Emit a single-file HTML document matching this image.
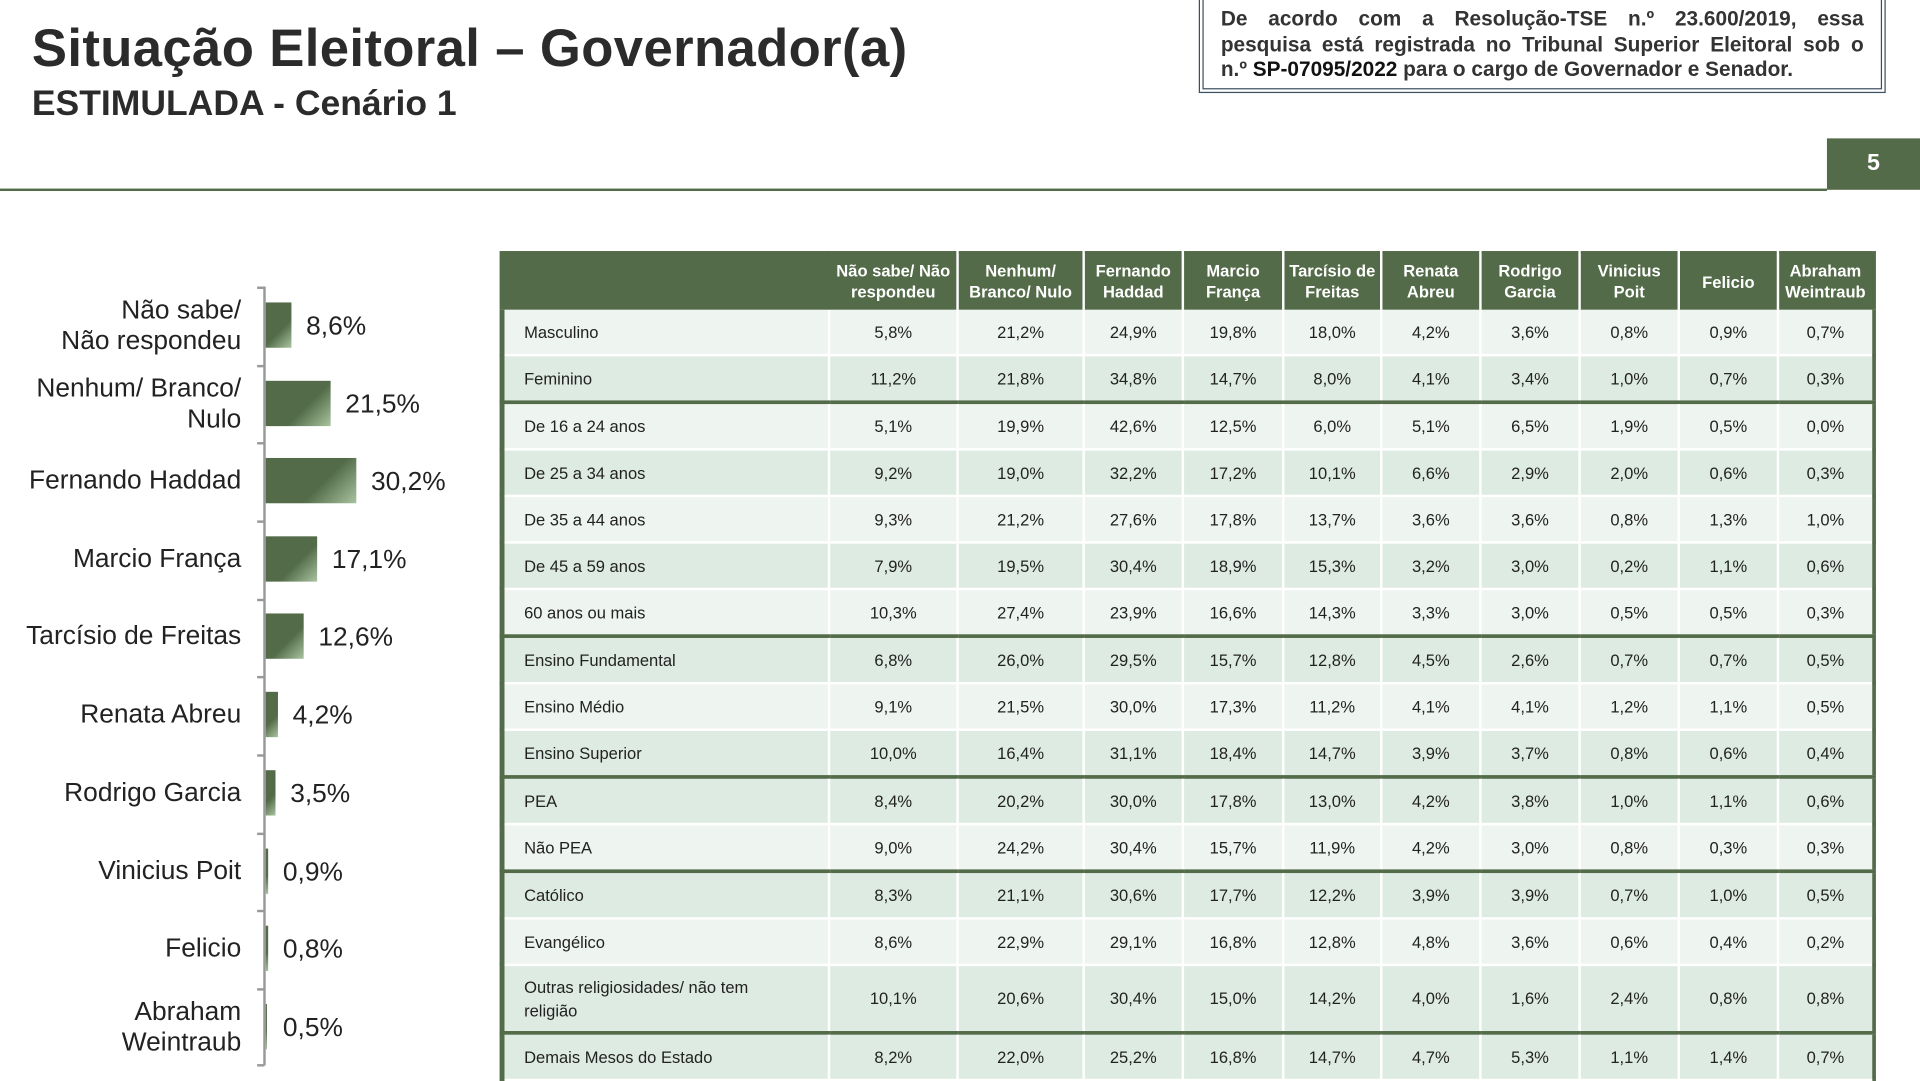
<!DOCTYPE html>
<html><head><meta charset="utf-8"><style>
html,body{margin:0;padding:0;width:1920px;height:1080px;overflow:hidden;background:#fff}
#w{position:absolute;left:0;top:0;width:1568px;height:882px;transform:scale(1.22449);transform-origin:0 0;font-family:"Liberation Sans",Arial,sans-serif;color:#1a1a1a}
.a{position:absolute}
h1{position:absolute;left:26px;top:16px;margin:0;font-size:43px;font-weight:bold;color:#2b2b2b;white-space:nowrap;letter-spacing:0.3px}
h2{position:absolute;left:26px;top:69px;margin:0;font-size:29px;font-weight:bold;color:#2b2b2b;white-space:nowrap}
.box{position:absolute;left:979px;top:-4px;width:561px;height:80px;border:4px double #3c4f60;padding:6px 14px 0 14px;box-sizing:border-box;font-size:17px;font-weight:bold;line-height:20.5px;color:#333}
.box div{text-align:justify;text-align-last:justify;white-space:nowrap}
.lab{position:absolute;right:1371px;font-size:21.5px;text-align:right;line-height:25px;color:#222;white-space:nowrap}
.bar{position:absolute;left:217px;height:37px;background:linear-gradient(135deg,#536b48 0%,#536b48 60%,#a9c3a0 100%)}
.val{position:absolute;font-size:21.5px;color:#222}
.tk{position:absolute;left:210px;width:6px;height:2px;background:#999}
table{position:absolute;left:408px;top:205px;width:1123px;border-collapse:collapse;table-layout:fixed;font-size:13.5px;border-left:4px solid #536b48;border-right:3px solid #536b48}
th{background:#536b48;color:#fff;font-size:13.5px;font-weight:bold;height:46px;line-height:17px;padding:0;border-right:2px solid #fff;border-top:2px solid #536b48}
th:first-child{border-right:2px solid #536b48}
td{height:36px;padding:0;text-align:center;border-right:2px solid #fff;border-bottom:2px solid #fff;color:#222}
td:first-child{text-align:left;padding-left:16px}
tr.l td{background:#eef4ef}
tr.d td{background:#deebe2}
tr.g td{border-bottom:3px solid #536b48}
</style></head><body><div id="w">
<h1>Situação Eleitoral – Governador(a)</h1>
<h2>ESTIMULADA - Cenário 1</h2>
<div class="box"><div>De acordo com a Resolução-TSE n.º 23.600/2019, essa</div><div>pesquisa está registrada no Tribunal Superior Eleitoral sob o</div><div style="text-align-last:left">n.º <span style="color:#111">SP-07095/2022</span> para o cargo de Governador e Senador.</div></div>
<div class="a" style="left:0;top:154px;width:1492px;height:2px;background:#536b48"></div>
<div class="a" style="left:1492px;top:113px;width:76px;height:42px;background:#536b48;color:#fff;font-weight:bold;font-size:19px;text-align:center;line-height:42px">5</div>

<div class="a" style="left:215px;top:234px;width:2px;height:636px;background:#999"></div>
<div class="tk" style="top:234px"></div><div class="tk" style="top:298px"></div><div class="tk" style="top:361px"></div><div class="tk" style="top:425px"></div><div class="tk" style="top:489px"></div><div class="tk" style="top:552px"></div><div class="tk" style="top:616px"></div><div class="tk" style="top:680px"></div><div class="tk" style="top:743px"></div><div class="tk" style="top:807px"></div><div class="tk" style="top:869px"></div>

<div class="lab" style="top:241px">Não sabe/<br>Não respondeu</div>
<div class="bar" style="top:247px;width:21px"></div><div class="val" style="left:250px;top:254px">8,6%</div>
<div class="lab" style="top:305px">Nenhum/ Branco/<br>Nulo</div>
<div class="bar" style="top:311px;width:53px"></div><div class="val" style="left:282px;top:318px">21,5%</div>
<div class="lab" style="top:380px">Fernando Haddad</div>
<div class="bar" style="top:374px;width:74px"></div><div class="val" style="left:303px;top:381px">30,2%</div>
<div class="lab" style="top:444px">Marcio França</div>
<div class="bar" style="top:438px;width:42px"></div><div class="val" style="left:271px;top:445px">17,1%</div>
<div class="lab" style="top:507px">Tarcísio de Freitas</div>
<div class="bar" style="top:501px;width:31px"></div><div class="val" style="left:260px;top:508px">12,6%</div>
<div class="lab" style="top:571px">Renata Abreu</div>
<div class="bar" style="top:565px;width:10px"></div><div class="val" style="left:239px;top:572px">4,2%</div>
<div class="lab" style="top:635px">Rodrigo Garcia</div>
<div class="bar" style="top:629px;width:8px"></div><div class="val" style="left:237px;top:636px">3,5%</div>
<div class="lab" style="top:699px">Vinicius Poit</div>
<div class="bar" style="top:693px;width:2px"></div><div class="val" style="left:231px;top:700px">0,9%</div>
<div class="lab" style="top:762px">Felicio</div>
<div class="bar" style="top:756px;width:2px"></div><div class="val" style="left:231px;top:763px">0,8%</div>
<div class="lab" style="top:814px">Abraham<br>Weintraub</div>
<div class="bar" style="top:820px;width:1px"></div><div class="val" style="left:231px;top:827px">0,5%</div>

<table>
<colgroup><col style="width:267px"><col style="width:105px"><col style="width:103px"><col style="width:81px"><col style="width:82px"><col style="width:80px"><col style="width:81px"><col style="width:81px"><col style="width:81px"><col style="width:81px"><col style="width:78px"></colgroup>
<tr><th></th><th>Não sabe/ Não<br>respondeu</th><th>Nenhum/<br>Branco/ Nulo</th><th>Fernando<br>Haddad</th><th>Marcio<br>França</th><th>Tarcísio de<br>Freitas</th><th>Renata<br>Abreu</th><th>Rodrigo<br>Garcia</th><th>Vinicius<br>Poit</th><th>Felicio</th><th style="border-right:none">Abraham<br>Weintraub</th></tr>
<tr class="l"><td>Masculino</td><td>5,8%</td><td>21,2%</td><td>24,9%</td><td>19,8%</td><td>18,0%</td><td>4,2%</td><td>3,6%</td><td>0,8%</td><td>0,9%</td><td>0,7%</td></tr>
<tr class="d g"><td>Feminino</td><td>11,2%</td><td>21,8%</td><td>34,8%</td><td>14,7%</td><td>8,0%</td><td>4,1%</td><td>3,4%</td><td>1,0%</td><td>0,7%</td><td>0,3%</td></tr>
<tr class="l"><td>De 16 a 24 anos</td><td>5,1%</td><td>19,9%</td><td>42,6%</td><td>12,5%</td><td>6,0%</td><td>5,1%</td><td>6,5%</td><td>1,9%</td><td>0,5%</td><td>0,0%</td></tr>
<tr class="d"><td>De 25 a 34 anos</td><td>9,2%</td><td>19,0%</td><td>32,2%</td><td>17,2%</td><td>10,1%</td><td>6,6%</td><td>2,9%</td><td>2,0%</td><td>0,6%</td><td>0,3%</td></tr>
<tr class="l"><td>De 35 a 44 anos</td><td>9,3%</td><td>21,2%</td><td>27,6%</td><td>17,8%</td><td>13,7%</td><td>3,6%</td><td>3,6%</td><td>0,8%</td><td>1,3%</td><td>1,0%</td></tr>
<tr class="d"><td>De 45 a 59 anos</td><td>7,9%</td><td>19,5%</td><td>30,4%</td><td>18,9%</td><td>15,3%</td><td>3,2%</td><td>3,0%</td><td>0,2%</td><td>1,1%</td><td>0,6%</td></tr>
<tr class="l g"><td>60 anos ou mais</td><td>10,3%</td><td>27,4%</td><td>23,9%</td><td>16,6%</td><td>14,3%</td><td>3,3%</td><td>3,0%</td><td>0,5%</td><td>0,5%</td><td>0,3%</td></tr>
<tr class="d"><td>Ensino Fundamental</td><td>6,8%</td><td>26,0%</td><td>29,5%</td><td>15,7%</td><td>12,8%</td><td>4,5%</td><td>2,6%</td><td>0,7%</td><td>0,7%</td><td>0,5%</td></tr>
<tr class="l"><td>Ensino Médio</td><td>9,1%</td><td>21,5%</td><td>30,0%</td><td>17,3%</td><td>11,2%</td><td>4,1%</td><td>4,1%</td><td>1,2%</td><td>1,1%</td><td>0,5%</td></tr>
<tr class="d g"><td>Ensino Superior</td><td>10,0%</td><td>16,4%</td><td>31,1%</td><td>18,4%</td><td>14,7%</td><td>3,9%</td><td>3,7%</td><td>0,8%</td><td>0,6%</td><td>0,4%</td></tr>
<tr class="d"><td>PEA</td><td>8,4%</td><td>20,2%</td><td>30,0%</td><td>17,8%</td><td>13,0%</td><td>4,2%</td><td>3,8%</td><td>1,0%</td><td>1,1%</td><td>0,6%</td></tr>
<tr class="l g"><td>Não PEA</td><td>9,0%</td><td>24,2%</td><td>30,4%</td><td>15,7%</td><td>11,9%</td><td>4,2%</td><td>3,0%</td><td>0,8%</td><td>0,3%</td><td>0,3%</td></tr>
<tr class="d"><td>Católico</td><td>8,3%</td><td>21,1%</td><td>30,6%</td><td>17,7%</td><td>12,2%</td><td>3,9%</td><td>3,9%</td><td>0,7%</td><td>1,0%</td><td>0,5%</td></tr>
<tr class="l"><td>Evangélico</td><td>8,6%</td><td>22,9%</td><td>29,1%</td><td>16,8%</td><td>12,8%</td><td>4,8%</td><td>3,6%</td><td>0,6%</td><td>0,4%</td><td>0,2%</td></tr>
<tr class="d g"><td style="height:53px;line-height:19px">Outras religiosidades/ não tem<br>religião</td><td>10,1%</td><td>20,6%</td><td>30,4%</td><td>15,0%</td><td>14,2%</td><td>4,0%</td><td>1,6%</td><td>2,4%</td><td>0,8%</td><td>0,8%</td></tr>
<tr class="d"><td>Demais Mesos do Estado</td><td>8,2%</td><td>22,0%</td><td>25,2%</td><td>16,8%</td><td>14,7%</td><td>4,7%</td><td>5,3%</td><td>1,1%</td><td>1,4%</td><td>0,7%</td></tr>
</table>
</div></body></html>
